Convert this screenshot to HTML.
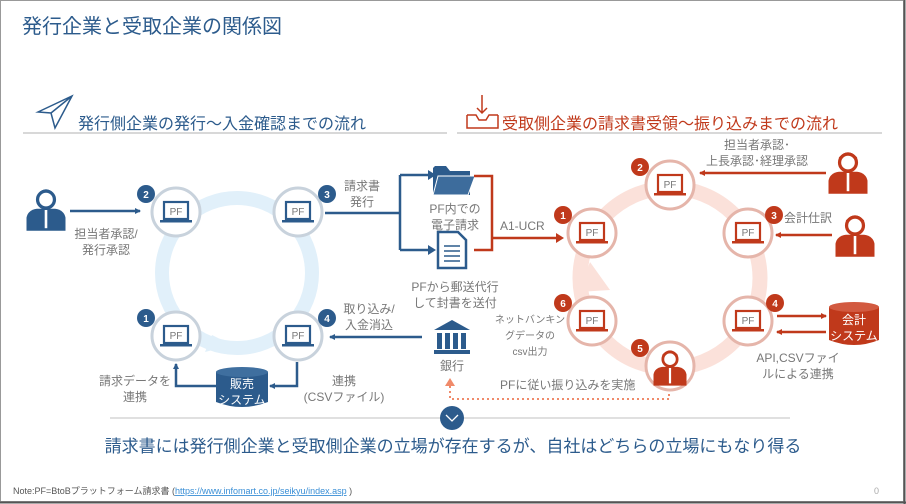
<!DOCTYPE html>
<html><head><meta charset="utf-8"><style>
body{margin:0;background:#fff}
svg{display:block;font-family:"Liberation Sans","Noto Sans CJK JP",sans-serif}
</style></head><body>
<svg width="906" height="504" viewBox="0 0 906 504" xmlns="http://www.w3.org/2000/svg">
<defs>
<g id="lapB"><rect x="-12" y="-11" width="24" height="17" fill="#fff" stroke="#2c5b8c" stroke-width="2.2"/><rect x="-16" y="7" width="32" height="2.5" fill="#2c5b8c"/><text x="0" y="2" font-size="10" fill="#777" text-anchor="middle">PF</text></g>
<g id="lapR"><rect x="-12" y="-11" width="24" height="17" fill="#fff" stroke="#c0391b" stroke-width="2.2"/><rect x="-16" y="7" width="32" height="2.5" fill="#c0391b"/><text x="0" y="2" font-size="10" fill="#777" text-anchor="middle">PF</text></g>
<g id="perB"><circle cx="0" cy="-8" r="6.5" fill="#fff" stroke="#2c5b8c" stroke-width="2.5"/><path d="M-6.5,-10 Q0,-18 6.5,-10 L6.5,-12 Q0,-20 -6.5,-12Z" fill="#2c5b8c"/><path d="M-15,16 L-15,6 Q-14,0 -7,-1 L7,-1 Q14,0 15,6 L15,16Z" fill="#2c5b8c"/><rect x="-1" y="0" width="2" height="14" fill="#fff"/></g>
<g id="perR"><circle cx="0" cy="-8" r="6.5" fill="#fff" stroke="#c0391b" stroke-width="2.5"/><path d="M-7,-9 Q0,-20 7,-9 L7,-12 Q0,-20 -7,-12Z" fill="#c0391b"/><path d="M-15,16 L-15,6 Q-14,0 -7,-1 L7,-1 Q14,0 15,6 L15,16Z" fill="#c0391b"/><rect x="-1" y="0" width="2" height="14" fill="#fff"/></g>
<marker id="ab" markerWidth="6" markerHeight="6" refX="5" refY="3" orient="auto" markerUnits="userSpaceOnUse"><path d="M0,0 L6,3 L0,6Z" fill="#2c5b8c"/></marker>
<marker id="ar" markerWidth="6" markerHeight="6" refX="5" refY="3" orient="auto" markerUnits="userSpaceOnUse"><path d="M0,0 L6,3 L0,6Z" fill="#c0391b"/></marker>
</defs>
<rect x="0.5" y="0.5" width="903" height="501" fill="#fff" stroke="#999"/>
<line x1="0" y1="502.5" x2="906" y2="502.5" stroke="#555" stroke-width="2"/>
<line x1="904.5" y1="0" x2="904.5" y2="504" stroke="#555" stroke-width="2"/>
<text x="22" y="33" font-size="20" fill="#2c5b8c">発行企業と受取企業の関係図</text>

<path d="M38,112 L72,96 L55,128 L51,113Z M51,113 L72,96" fill="none" stroke="#2c5b8c" stroke-width="1.5"/>
<text x="78" y="129" font-size="16" fill="#2c5b8c">発行側企業の発行～入金確認までの流れ</text>
<line x1="23" y1="133" x2="447" y2="133" stroke="#ccc" stroke-width="1.5"/>
<path d="M467,115 L467,128 L498,128 L498,115 M467,115 L476,115 L479,120 L486,120 L489,115 L498,115 M482,95 L482,113 M477,108 L482,113 L487,108" fill="none" stroke="#c0391b" stroke-width="1.5"/>
<text x="502" y="129" font-size="16" fill="#c0391b">受取側企業の請求書受領～振り込みまでの流れ</text>
<line x1="457" y1="133" x2="882" y2="133" stroke="#ccc" stroke-width="1.5"/>

<circle cx="237" cy="273" r="75" fill="none" stroke="#e1f0fa" stroke-width="14"/>
<path d="M212,335 L232,345 L205,352Z" fill="#e1f0fa"/>
<g>
<circle cx="176" cy="212" r="24" fill="#fff" stroke="#c8d2dc" stroke-width="3"/><use href="#lapB" x="176" y="213"/>
<circle cx="298" cy="212" r="24" fill="#fff" stroke="#c8d2dc" stroke-width="3"/><use href="#lapB" x="298" y="213"/>
<circle cx="176" cy="336" r="24" fill="#fff" stroke="#c8d2dc" stroke-width="3"/><use href="#lapB" x="176" y="337"/>
<circle cx="298" cy="336" r="24" fill="#fff" stroke="#c8d2dc" stroke-width="3"/><use href="#lapB" x="298" y="337"/>
</g>
<g font-size="10" fill="#fff" text-anchor="middle" font-weight="bold">
<circle cx="146" cy="194" r="9" fill="#2c5b8c"/><text x="146" y="198">2</text>
<circle cx="327" cy="194" r="9" fill="#2c5b8c"/><text x="327" y="198">3</text>
<circle cx="146" cy="318" r="9" fill="#2c5b8c"/><text x="146" y="322">1</text>
<circle cx="327" cy="318" r="9" fill="#2c5b8c"/><text x="327" y="322">4</text>
</g>
<use href="#perB" transform="translate(46,210) scale(1.3)"/>
<line x1="70" y1="211" x2="140" y2="211" stroke="#2c5b8c" stroke-width="2.5" marker-end="url(#ab)"/>
<g font-size="12" fill="#777" text-anchor="middle">
<text x="106" y="238">担当者承認/</text><text x="106" y="254">発行承認</text>
<text x="362" y="190">請求書</text><text x="362" y="206">発行</text>
<text x="369" y="313">取り込み/</text><text x="369" y="329">入金消込</text>
<text x="135" y="385">請求データを</text><text x="135" y="401">連携</text>
<text x="344" y="385">連携</text><text x="344" y="401">(CSVファイル)</text>
</g>
<path d="M325,213 L400,213 M400,175 L400,250 M400,175 L428,175 M400,250 L428,250" fill="none" stroke="#2c5b8c" stroke-width="2.5"/>
<path d="M428,170 L436,175 L428,180Z M428,245 L436,250 L428,255Z" fill="#2c5b8c"/>
<line x1="422" y1="337" x2="330" y2="337" stroke="#2c5b8c" stroke-width="2.5" marker-end="url(#ab)"/>
<path d="M297,362 L297,386 L270,386" fill="none" stroke="#2c5b8c" stroke-width="2.5" marker-end="url(#ab)"/>
<path d="M216,386 L176,386 L176,364" fill="none" stroke="#2c5b8c" stroke-width="2.5" marker-end="url(#ab)"/>
<path d="M216,372 L216,402 Q242,412 268,402 L268,372Z" fill="#2c5b8c"/>
<ellipse cx="242" cy="372" rx="26" ry="5" fill="#3f6f9f"/>
<text x="242" y="388" font-size="12" fill="#fff" text-anchor="middle">販売</text>
<text x="242" y="404" font-size="12" fill="#fff" text-anchor="middle">システム</text>

<path d="M433,168 L433,195 L470,195 L470,171 L450,171 L446,166 L435,166Z" fill="#2c5b8c"/>
<path d="M438,176 L475,176 L468,195 L433,195Z" fill="#3d6c9c" stroke="#fff" stroke-width="1"/>
<text x="455" y="213" font-size="12" fill="#777" text-anchor="middle">PF内での</text>
<text x="455" y="229" font-size="12" fill="#777" text-anchor="middle">電子請求</text>
<path d="M438,232 L458,232 L466,240 L466,268 L438,268Z" fill="#fff" stroke="#2c5b8c" stroke-width="2.5"/>
<path d="M444,246 L460,246 M444,251 L460,251 M444,256 L460,256 M444,261 L460,261" stroke="#2c5b8c" stroke-width="1.5"/>
<text x="455" y="291" font-size="12" fill="#777" text-anchor="middle">PFから郵送代行</text>
<text x="455" y="307" font-size="12" fill="#777" text-anchor="middle">して封書を送付</text>
<path d="M452,320 L434,330 L470,330Z" fill="#2c5b8c"/>
<path d="M437,333 h5 v16 h-5z M445,333 h5 v16 h-5z M453,333 h5 v16 h-5z M461,333 h5 v16 h-5z M434,350 h36 v4 h-36z" fill="#2c5b8c"/>
<text x="452" y="370" font-size="12" fill="#777" text-anchor="middle">銀行</text>
<path d="M450,378 L455,386 L445,386Z" fill="#f08a6a"/>
<path d="M450,386 L450,399 L669,399 L669,387" fill="none" stroke="#f08a6a" stroke-width="2" stroke-dasharray="2,3"/>
<text x="500" y="389" font-size="12" fill="#777">PFに従い振り込みを実施</text>

<circle cx="670" cy="278" r="90" fill="none" stroke="#fbe1da" stroke-width="15"/>
<path d="M590,262 L610,290 L578,292Z" fill="#fbe1da"/>
<path d="M474,176 L492,176 L492,250 L474,250 M492,238 L556,238" fill="none" stroke="#c0391b" stroke-width="2.5"/>
<path d="M556,233 L564,238 L556,243Z" fill="#c0391b"/>
<text x="500" y="230" font-size="12" fill="#777">A1-UCR</text>
<g>
<circle cx="592" cy="233" r="24" fill="#fff" stroke="#e5b5aa" stroke-width="3"/><use href="#lapR" x="592" y="234"/>
<circle cx="670" cy="185" r="24" fill="#fff" stroke="#e5b5aa" stroke-width="3"/><use href="#lapR" x="670" y="186"/>
<circle cx="748" cy="233" r="24" fill="#fff" stroke="#e5b5aa" stroke-width="3"/><use href="#lapR" x="748" y="234"/>
<circle cx="748" cy="321" r="24" fill="#fff" stroke="#e5b5aa" stroke-width="3"/><use href="#lapR" x="748" y="322"/>
<circle cx="592" cy="321" r="24" fill="#fff" stroke="#e5b5aa" stroke-width="3"/><use href="#lapR" x="592" y="322"/>
<circle cx="670" cy="366" r="24" fill="#fff" stroke="#e5b5aa" stroke-width="3"/><use href="#perR" transform="translate(670,368) scale(1.1)"/>
</g>
<g font-size="10" fill="#fff" text-anchor="middle" font-weight="bold">
<circle cx="563" cy="215" r="9" fill="#c0391b"/><text x="563" y="219">1</text>
<circle cx="640" cy="167" r="9" fill="#c0391b"/><text x="640" y="171">2</text>
<circle cx="774" cy="215" r="9" fill="#c0391b"/><text x="774" y="219">3</text>
<circle cx="775" cy="303" r="9" fill="#c0391b"/><text x="775" y="307">4</text>
<circle cx="563" cy="303" r="9" fill="#c0391b"/><text x="563" y="307">6</text>
<circle cx="640" cy="348" r="9" fill="#c0391b"/><text x="640" y="352">5</text>
</g>
<use href="#perR" transform="translate(848,173) scale(1.3)"/>
<use href="#perR" transform="translate(855,236) scale(1.3)"/>
<line x1="826" y1="173" x2="700" y2="173" stroke="#c0391b" stroke-width="2.5" marker-end="url(#ar)"/>
<line x1="832" y1="235" x2="776" y2="235" stroke="#c0391b" stroke-width="2.5" marker-end="url(#ar)"/>
<line x1="777" y1="316" x2="826" y2="316" stroke="#c0391b" stroke-width="2.5" marker-end="url(#ar)"/>
<line x1="826" y1="332" x2="777" y2="332" stroke="#c0391b" stroke-width="2.5" marker-end="url(#ar)"/>
<path d="M829,307 L829,340 Q854,350 879,340 L879,307Z" fill="#c0391b"/>
<ellipse cx="854" cy="307" rx="25" ry="5" fill="#d25a40"/>
<text x="854" y="324" font-size="12" fill="#fff" text-anchor="middle">会計</text>
<text x="854" y="340" font-size="12" fill="#fff" text-anchor="middle">システム</text>
<g font-size="12" fill="#777" text-anchor="middle">
<text x="757" y="149">担当者承認･</text><text x="757" y="165">上長承認･経理承認</text>
<text x="808" y="222">会計仕訳</text>
<text x="798" y="362">API,CSVファイ</text><text x="798" y="378">ルによる連携</text>
</g>
<g font-size="10" fill="#777" text-anchor="middle">
<text x="530" y="323">ネットバンキン</text><text x="530" y="339">グデータの</text><text x="530" y="355">csv出力</text>
</g>

<line x1="110" y1="418" x2="790" y2="418" stroke="#d6d6d6" stroke-width="1.5"/>
<circle cx="452" cy="418" r="12" fill="#2c5b8c"/>
<path d="M446,415 L452,421 L458,415" fill="none" stroke="#fff" stroke-width="1.3"/>
<text x="453" y="452" font-size="17" fill="#2c5b8c" text-anchor="middle">請求書には発行側企業と受取側企業の立場が存在するが、自社はどちらの立場にもなり得る</text>
<text x="13" y="494" font-size="9" fill="#555">Note:PF=BtoBプラットフォーム請求書 (<tspan fill="#3a8fd6" text-decoration="underline">https://www.infomart.co.jp/seikyu/index.asp</tspan> )</text>
<text x="874" y="494" font-size="9" fill="#aaa">0</text>
</svg>
</body></html>
